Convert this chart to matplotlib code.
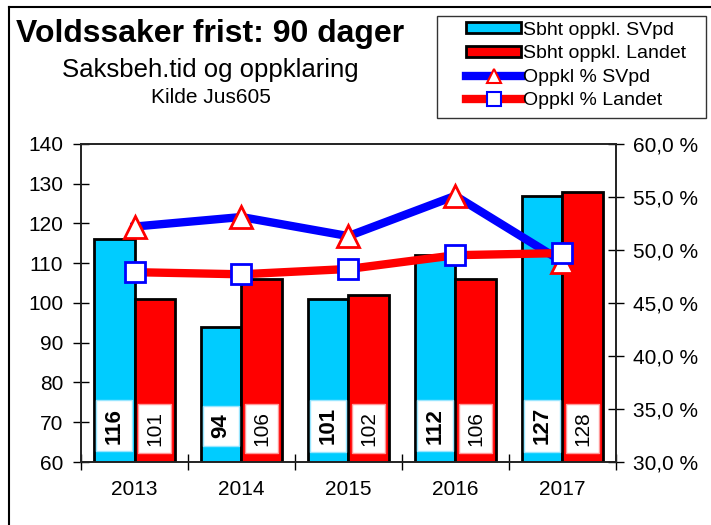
import numpy as np
import matplotlib
matplotlib.use("Agg")
import matplotlib.pyplot as plt
from matplotlib.patches import Patch, Rectangle
from matplotlib.lines import Line2D
from matplotlib.ticker import FixedLocator, FuncFormatter

plt.rcParams['font.family'] = ['Liberation Sans', 'DejaVu Sans']

# data
years = ['2013', '2014', '2015', '2016', '2017']
sbht_svpd = [116, 94, 101, 112, 127]
sbht_landet = [101, 106, 102, 106, 128]
oppkl_svpd = [52.2, 53.1, 51.3, 55.1, 48.9]
oppkl_landet = [47.9, 47.7, 48.2, 49.5, 49.7]

CYAN = '#00ccff'
RED = '#ff0000'
BLUE = '#0000ff'

fig = plt.figure(figsize=(7.11, 5.25), dpi=100)
ax1 = fig.add_axes([0.114, 0.12, 0.752, 0.606])
ax2 = ax1.twinx()

x = np.arange(len(years))
w = 0.38
ax1.bar(x - w / 2, sbht_svpd, w, color=CYAN, edgecolor='black', linewidth=2)
ax1.bar(x + w / 2, sbht_landet, w, color=RED, edgecolor='black', linewidth=2)

# value labels in white boxes near the bottom of each bar
for i in range(len(years)):
    ax1.text(x[i] - w / 2, 69.1, str(sbht_svpd[i]), rotation=90, ha='center', va='center',
             fontsize=16, fontweight='bold',
             bbox=dict(boxstyle='square,pad=0.34', facecolor='white', edgecolor='#99e6ff', lw=1))
    ax1.text(x[i] + w / 2, 68.5, str(sbht_landet[i]), rotation=90, ha='center', va='center',
             fontsize=15,
             bbox=dict(boxstyle='square,pad=0.34', facecolor='white', edgecolor='#ff9999', lw=1))

ax2.plot(x, oppkl_svpd, color=BLUE, linewidth=6, marker='^', markersize=16,
         markerfacecolor='white', markeredgecolor=RED, markeredgewidth=2, zorder=3)
ax2.plot(x, oppkl_landet, color=RED, linewidth=6, marker='s', markersize=14,
         markerfacecolor='white', markeredgecolor=BLUE, markeredgewidth=2, zorder=4)

ax1.set_xlim(-0.5, len(years) - 0.5)
ax1.set_ylim(60, 140)
ax1.set_yticks(range(60, 141, 10))
ax2.set_ylim(30, 60)
ax2.set_yticks(np.arange(30, 60.1, 5))
ax2.yaxis.set_major_formatter(FuncFormatter(lambda v, p: f"{v:.1f}".replace('.', ',') + " %"))

ax1.set_xticks(x)
ax1.set_xticklabels(years)
ax1.xaxis.set_minor_locator(FixedLocator(np.arange(-0.5, len(years), 1.0)))
ax1.tick_params(axis='x', which='major', length=0, labelsize=15, pad=13)
ax1.tick_params(axis='x', which='minor', direction='inout', length=11, width=1)
ax1.tick_params(axis='y', direction='inout', length=11.5, width=1, labelsize=15, pad=7)
ax2.tick_params(axis='y', direction='inout', length=11.5, width=1, labelsize=15, pad=7)

for ax in (ax1, ax2):
    for s in ax.spines.values():
        s.set_linewidth(1.2)
        s.set_color('#222222')

# titles
fig.text(0.296, 0.936, 'Voldssaker frist: 90 dager', ha='center', va='center',
         fontsize=23, fontweight='bold')
fig.text(0.296, 0.866, 'Saksbeh.tid og oppklaring', ha='center', va='center', fontsize=18.5)
fig.text(0.296, 0.815, 'Kilde Jus605', ha='center', va='center', fontsize=15)

handles = [
    Patch(facecolor=CYAN, edgecolor='black', linewidth=2),
    Patch(facecolor=RED, edgecolor='black', linewidth=2),
    Line2D([], [], color=BLUE, linewidth=6, marker='^', markersize=10,
           markerfacecolor='white', markeredgecolor=RED, markeredgewidth=1.5),
    Line2D([], [], color=RED, linewidth=6, marker='s', markersize=10,
           markerfacecolor='white', markeredgecolor=BLUE, markeredgewidth=1.5),
]
labels = ['Sbht oppkl. SVpd', 'Sbht oppkl. Landet', 'Oppkl % SVpd', 'Oppkl % Landet']
leg = fig.legend(handles, labels, loc='upper left', bbox_to_anchor=(0.656, 0.959),
                 fontsize=14, frameon=False, handlelength=2.8,
                 handleheight=0.5, handletextpad=0.12, labelspacing=0.34,
                 borderpad=0.0, borderaxespad=0)
# legend frame
fig.add_artist(Rectangle((0.6146, 0.7752), 0.3784, 0.1943, transform=fig.transFigure,
                         fill=False, edgecolor='#333333', lw=1))

# outer border of the chart (top and left edges visible)
fig.add_artist(Line2D([0.013, 1.0], [0.987, 0.987], color='black', lw=1.5, transform=fig.transFigure))
fig.add_artist(Line2D([0.013, 0.013], [0.0, 0.987], color='black', lw=1.5, transform=fig.transFigure))

fig.savefig('out.png', dpi=100)
